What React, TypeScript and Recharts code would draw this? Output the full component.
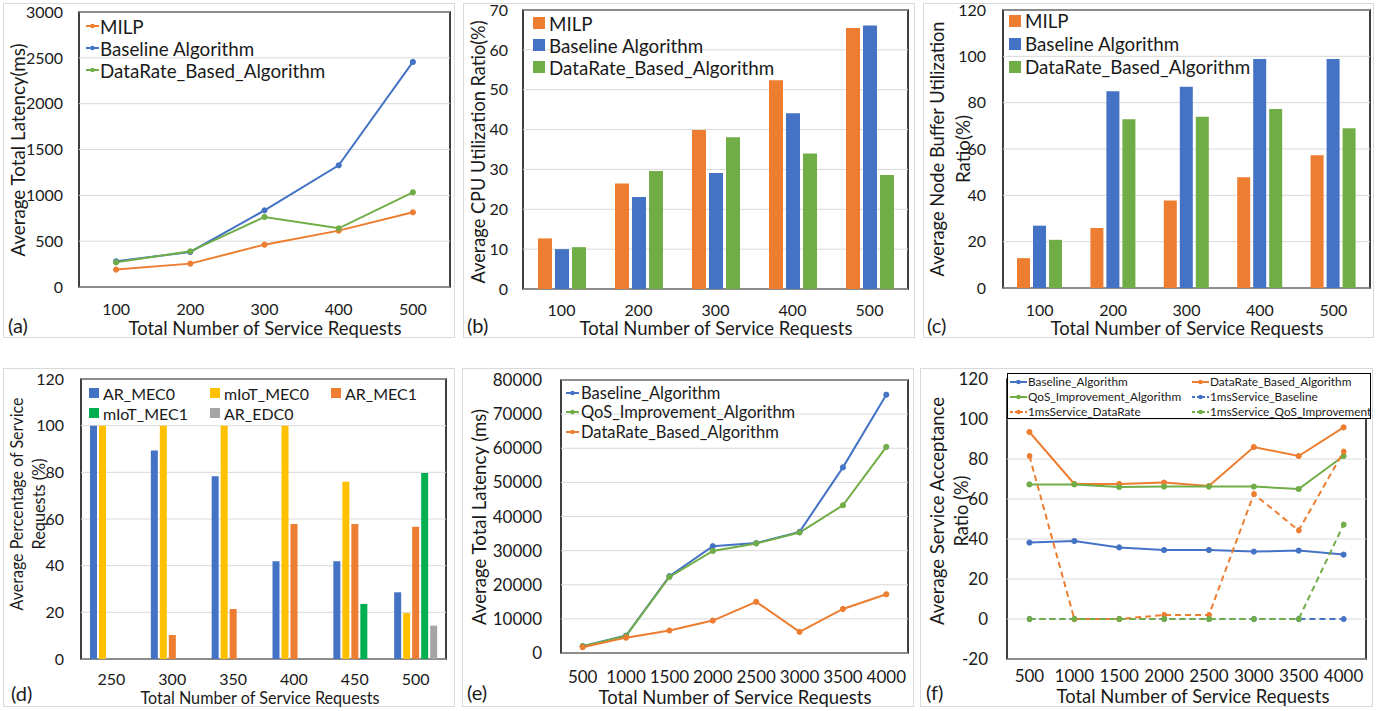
import React from "react";
import {
  ComposedChart,
  BarChart,
  Line,
  Bar,
  XAxis,
  YAxis,
  CartesianGrid,
  Legend,
} from "recharts";

const FONT = "Lato, 'Noto Sans', sans-serif";
const INK = "#1a1a1a";
const ORANGE = "#ED7D31";
const BLUE = "#4472C4";
const GREEN = "#70AD47";
const YELLOW = "#FFC000";
const LIME = "#00B050";
const GREY = "#A5A5A5";

// (a) average total latency
const reqSmall = [100, 200, 300, 400, 500];
const latMilp = [190, 255, 462, 615, 815];
const latBaseline = [280, 382, 836, 1327, 2455];
const latDataRate = [269, 389, 764, 640, 1033];
const ticksA = [0, 500, 1000, 1500, 2000, 2500, 3000];

// (b) cpu utilisation
const cpuMilp = [12.7, 26.5, 39.9, 52.4, 65.5];
const cpuBaseline = [10.0, 23.1, 29.1, 44.1, 66.1];
const cpuDataRate = [10.5, 29.6, 38.1, 34.0, 28.6];
const ticksB = [0, 10, 20, 30, 40, 50, 60, 70];

// (c) node buffer utilisation
const bufMilp = [12.9, 25.9, 37.8, 47.8, 57.3];
const bufBaseline = [26.9, 84.9, 86.9, 98.9, 98.9];
const bufDataRate = [20.8, 72.8, 73.9, 77.3, 69.0];
const ticksPct = [0, 20, 40, 60, 80, 100, 120];

// (d) share of service requests
const reqD = [250, 300, 350, 400, 450, 500];
const arMec0 = [100, 89.4, 78.3, 41.9, 41.9, 28.6];
const miotMec0 = [100, 100, 100, 100, 76, 19.7];
const arMec1 = [0, 10.3, 21.4, 57.9, 57.9, 56.7];
const miotMec1 = [0, 0, 0, 0, 23.6, 79.7];
const arEdc0 = [0, 0, 0, 0, 0, 14.3];

// (e) latency, large scale
const reqLarge = [500, 1000, 1500, 2000, 2500, 3000, 3500, 4000];
const eBaseline = [2000, 5100, 22500, 31300, 32200, 35500, 54400, 75700];
const eQos = [2000, 5000, 22300, 29900, 32100, 35300, 43300, 60400];
const eDataRate = [1700, 4500, 6600, 9500, 15000, 6200, 12900, 17200];
const ticksE = [0, 10000, 20000, 30000, 40000, 50000, 60000, 70000, 80000];

// (f) acceptance ratio
const fBaseline = [38.2, 39.0, 35.8, 34.5, 34.5, 33.7, 34.2, 32.2];
const fDataRate = [93.5, 67.5, 67.5, 68.2, 66.5, 86.0, 81.5, 95.8];
const fQos = [67.3, 67.3, 66.0, 66.2, 66.2, 66.2, 65.0, 81.5];
const f1msBaseline = [0, 0, 0, 0, 0, 0, 0, 0];
const f1msDataRate = [81.5, 0, 0, 2, 2, 62.5, 44.3, 83.7];
const f1msQos = [0, 0, 0, 0, 0, 0, 0, 47.2];
const ticksF = [-20, 0, 20, 40, 60, 80, 100, 120];

type Series = { key: string; name: string; color: string; values: number[]; dashed?: boolean };

const seriesA: Series[] = [
  { key: "milp", name: "MILP", color: ORANGE, values: latMilp },
  { key: "base", name: "Baseline Algorithm", color: BLUE, values: latBaseline },
  { key: "rate", name: "DataRate_Based_Algorithm", color: GREEN, values: latDataRate },
];
const seriesB: Series[] = [
  { key: "milp", name: "MILP", color: ORANGE, values: cpuMilp },
  { key: "base", name: "Baseline Algorithm", color: BLUE, values: cpuBaseline },
  { key: "rate", name: "DataRate_Based_Algorithm", color: GREEN, values: cpuDataRate },
];
const seriesC: Series[] = [
  { key: "milp", name: "MILP", color: ORANGE, values: bufMilp },
  { key: "base", name: "Baseline Algorithm", color: BLUE, values: bufBaseline },
  { key: "rate", name: "DataRate_Based_Algorithm", color: GREEN, values: bufDataRate },
];
const seriesD: Series[] = [
  { key: "arMec0", name: "AR_MEC0", color: BLUE, values: arMec0 },
  { key: "miotMec0", name: "mIoT_MEC0", color: YELLOW, values: miotMec0 },
  { key: "arMec1", name: "AR_MEC1", color: ORANGE, values: arMec1 },
  { key: "miotMec1", name: "mIoT_MEC1", color: LIME, values: miotMec1 },
  { key: "arEdc0", name: "AR_EDC0", color: GREY, values: arEdc0 },
];
const seriesE: Series[] = [
  { key: "base", name: "Baseline_Algorithm", color: BLUE, values: eBaseline },
  { key: "qos", name: "QoS_Improvement_Algorithm", color: GREEN, values: eQos },
  { key: "rate", name: "DataRate_Based_Algorithm", color: ORANGE, values: eDataRate },
];
const seriesF: Series[] = [
  { key: "base", name: "Baseline_Algorithm", color: BLUE, values: fBaseline },
  { key: "rate", name: "DataRate_Based_Algorithm", color: ORANGE, values: fDataRate },
  { key: "qos", name: "QoS_Improvement_Algorithm", color: GREEN, values: fQos },
  { key: "b1ms", name: "1msService_Baseline", color: BLUE, values: f1msBaseline, dashed: true },
  { key: "r1ms", name: "1msService_DataRate", color: ORANGE, values: f1msDataRate, dashed: true },
  { key: "q1ms", name: "1msService_QoS_Improvement", color: GREEN, values: f1msQos, dashed: true },
];

const toRows = (cats: number[], series: Series[]) =>
  cats.map((c, i) => {
    const row: Record<string, number> = { req: c };
    series.forEach((s) => (row[s.key] = s.values[i]));
    return row;
  });

type Rect = { x: number; y: number; w: number; h: number };
type PlotBox = { l: number; t: number; r: number; b: number };

const frames: Record<string, Rect> = {
  a: { x: 3, y: 3, w: 452, h: 335 },
  b: { x: 463, y: 3, w: 452, h: 335 },
  c: { x: 923, y: 3, w: 451, h: 335 },
  d: { x: 3, y: 368, w: 452, h: 339 },
  e: { x: 462, y: 368, w: 452, h: 339 },
  f: { x: 920, y: 368, w: 453, h: 339 },
};
const plots: Record<string, PlotBox> = {
  a: { l: 79, t: 12, r: 450, b: 287 },
  b: { l: 523, t: 10, r: 908, b: 289 },
  c: { l: 1003, t: 10, r: 1370, b: 288 },
  d: { l: 81, t: 379, r: 446, b: 659 },
  e: { l: 561, t: 380, r: 908, b: 653 },
  f: { l: 1007, t: 379, r: 1366, b: 659 },
};

// extra room around each chart so edge labels are never clipped
const PAD = 12;

const layoutOf = (id: string) => {
  const f = frames[id];
  const p = plots[id];
  return {
    left: f.x - PAD,
    top: f.y - PAD,
    width: f.w + 2 * PAD,
    height: f.h + 2 * PAD,
    margin: { top: p.t - f.y + PAD, right: f.x + f.w - p.r + PAD, left: PAD, bottom: PAD },
    yWidth: p.l - f.x,
    xHeight: f.y + f.h - p.b,
  };
};

type LegendOpts = {
  kind: "line" | "bar";
  fontSize: number;
  rowH: number;
  cols: number;
  colW: number;
  iconW: number;
  gap: number;
};

function legendContent(items: Series[], o: LegendOpts) {
  return () => (
    <div
      style={{
        display: "grid",
        gridTemplateColumns: `repeat(${o.cols}, ${o.colW}px)`,
        fontFamily: FONT,
        fontSize: o.fontSize,
        color: INK,
      }}>
      {items.map((it) => (
        <div
          key={it.key}
          style={{ display: "flex", alignItems: "center", height: o.rowH, whiteSpace: "nowrap" }}>
          {o.kind === "bar" ? (
            <span style={{ width: o.iconW, height: o.iconW, background: it.color, display: "inline-block", flex: "none" }} />
          ) : (
            <svg width={o.iconW} height={8} style={{ flex: "none" }}>
              <line
                x1={0}
                y1={4}
                x2={o.iconW}
                y2={4}
                stroke={it.color}
                strokeWidth={2}
                strokeDasharray={it.dashed ? "3 2" : undefined}
              />
              <circle cx={o.iconW / 2} cy={4} r={2.3} fill={it.color} />
            </svg>
          )}
          <span style={{ marginLeft: o.gap }}>{it.name}</span>
        </div>
      ))}
    </div>
  );
}

const tickStyle = (size: number) => ({ fill: INK, fontSize: size, fontFamily: FONT });

type PanelProps = {
  id: string;
  cats: number[];
  series: Series[];
  domain: [number, number];
  ticks: number[];
  tickSize: number;
  xMargin: number;
  yMargin: number;
  legend: LegendOpts;
  legendStyle: React.CSSProperties;
};

const shiftLegend = (s: React.CSSProperties): React.CSSProperties => ({
  ...s,
  left: (s.left as number) + PAD,
  top: (s.top as number) + PAD,
});

function LinePanel(props: PanelProps) {
  const lay = layoutOf(props.id);
  return (
    <div style={{ position: "absolute", left: lay.left, top: lay.top }}>
      <ComposedChart width={lay.width} height={lay.height} data={toRows(props.cats, props.series)} margin={lay.margin}>
        <CartesianGrid vertical={false} stroke="#d9d9d9" />
        <XAxis
          dataKey="req"
          scale="band"
          height={lay.xHeight}
          interval={0}
          tickLine={false}
          axisLine={false}
          tickSize={0}
          tickMargin={props.xMargin}
          tick={tickStyle(props.tickSize)}
        />
        <YAxis
          width={lay.yWidth}
          domain={props.domain}
          ticks={props.ticks}
          interval={0}
          allowDataOverflow
          tickLine={false}
          axisLine={false}
          tickSize={0}
          tickMargin={props.yMargin}
          tick={tickStyle(props.tickSize)}
        />
        {props.series.map((s) => (
          <Line
            key={s.key}
            type="linear"
            dataKey={s.key}
            name={s.name}
            stroke={s.color}
            strokeWidth={2}
            strokeDasharray={s.dashed ? "6 4" : undefined}
            dot={{ r: 2.6, fill: s.color, stroke: s.color, strokeWidth: 1 }}
            isAnimationActive={false}
          />
        ))}
        <Legend
          layout="vertical"
          align="center"
          verticalAlign="middle"
          wrapperStyle={shiftLegend(props.legendStyle)}
          content={legendContent(props.series, props.legend)}
        />
      </ComposedChart>
    </div>
  );
}

function BarPanel(props: PanelProps & { barSize: number; barGap: number }) {
  const lay = layoutOf(props.id);
  return (
    <div style={{ position: "absolute", left: lay.left, top: lay.top }}>
      <BarChart
        width={lay.width}
        height={lay.height}
        data={toRows(props.cats, props.series)}
        margin={lay.margin}
        barSize={props.barSize}
        barGap={props.barGap}>
        <CartesianGrid vertical={false} stroke="#d9d9d9" />
        <XAxis
          dataKey="req"
          height={lay.xHeight}
          interval={0}
          tickLine={false}
          axisLine={false}
          tickSize={0}
          tickMargin={props.xMargin}
          tick={tickStyle(props.tickSize)}
        />
        <YAxis
          width={lay.yWidth}
          domain={props.domain}
          ticks={props.ticks}
          interval={0}
          tickLine={false}
          axisLine={false}
          tickSize={0}
          tickMargin={props.yMargin}
          tick={tickStyle(props.tickSize)}
        />
        {props.series.map((s) => (
          <Bar key={s.key} dataKey={s.key} name={s.name} fill={s.color} isAnimationActive={false} />
        ))}
        <Legend
          layout="vertical"
          align="center"
          verticalAlign="middle"
          wrapperStyle={shiftLegend(props.legendStyle)}
          content={legendContent(props.series, props.legend)}
        />
      </BarChart>
    </div>
  );
}

function Title(props: { x: number; y: number; len: number; size?: number; vertical?: boolean; children: string }) {
  return (
    <text
      x={props.x}
      y={props.y}
      fontSize={props.size ?? 19}
      fill={INK}
      textAnchor="middle"
      dominantBaseline="central"
      textLength={props.len}
      lengthAdjust="spacingAndGlyphs"
      transform={props.vertical ? `rotate(-90 ${props.x} ${props.y})` : undefined}>
      {props.children}
    </text>
  );
}

const X_TITLE = "Total Number of Service Requests";

export default function App() {
  const big: LegendOpts = { kind: "line", fontSize: 18.8, rowH: 22, cols: 1, colW: 320, iconW: 13, gap: 1 };
  const bars: LegendOpts = { kind: "bar", fontSize: 18.8, rowH: 22, cols: 1, colW: 320, iconW: 12, gap: 4 };
  return (
    <div
      style={{
        position: "absolute",
        left: 0,
        top: 0,
        width: 1391,
        height: 711,
        background: "#fff",
        fontFamily: FONT,
        overflow: "hidden",
      }}>
      <svg width={1391} height={711} style={{ position: "absolute", left: 0, top: 0 }}>
        {Object.keys(frames).map((k) => (
          <rect
            key={"f" + k}
            x={frames[k].x + 0.5}
            y={frames[k].y + 0.5}
            width={frames[k].w - 1}
            height={frames[k].h - 1}
            fill="none"
            stroke="#d9d9d9"
          />
        ))}
        {Object.keys(plots).map((k) => (
          <rect
            key={"p" + k}
            x={plots[k].l}
            y={plots[k].t}
            width={plots[k].r - plots[k].l}
            height={plots[k].b - plots[k].t}
            fill="none"
            stroke="#000"
            strokeWidth={1.5}
          />
        ))}
      </svg>

      <LinePanel
        id="a"
        cats={reqSmall}
        series={seriesA}
        domain={[0, 3000]}
        ticks={ticksA}
        tickSize={16}
        xMargin={17}
        yMargin={16}
        legend={big}
        legendStyle={{ left: 83, top: 12, width: 320 }}
      />
      <BarPanel
        id="b"
        cats={reqSmall}
        series={seriesB}
        domain={[0, 70]}
        ticks={ticksB}
        tickSize={16}
        xMargin={16}
        yMargin={15}
        barSize={14}
        barGap={3}
        legend={bars}
        legendStyle={{ left: 70, top: 9, width: 320 }}
      />
      <BarPanel
        id="c"
        cats={reqSmall}
        series={seriesC}
        domain={[0, 120]}
        ticks={ticksPct}
        tickSize={16}
        xMargin={17}
        yMargin={17}
        barSize={13}
        barGap={3}
        legend={{ ...bars, rowH: 23 }}
        legendStyle={{ left: 86, top: 6, width: 320 }}
      />
      <BarPanel
        id="d"
        cats={reqD}
        series={seriesD}
        domain={[0, 120]}
        ticks={ticksPct}
        tickSize={16}
        xMargin={15}
        yMargin={17}
        barSize={7}
        barGap={2}
        legend={{ kind: "bar", fontSize: 16, rowH: 20, cols: 3, colW: 121, iconW: 10, gap: 4 }}
        legendStyle={{ left: 86, top: 15, width: 363 }}
      />
      <LinePanel
        id="e"
        cats={reqLarge}
        series={seriesE}
        domain={[0, 80000]}
        ticks={ticksE}
        tickSize={17}
        xMargin={18}
        yMargin={19}
        legend={{ kind: "line", fontSize: 16.5, rowH: 19.5, cols: 1, colW: 300, iconW: 13, gap: 2 }}
        legendStyle={{ left: 104, top: 15, width: 300 }}
      />
      <LinePanel
        id="f"
        cats={reqLarge}
        series={seriesF}
        domain={[-20, 120]}
        ticks={ticksF}
        tickSize={17}
        xMargin={11}
        yMargin={19}
        legend={{ kind: "line", fontSize: 11.8, rowH: 15, cols: 2, colW: 182, iconW: 17, gap: 1 }}
        legendStyle={{
          left: 87,
          top: 5,
          width: 364,
          height: 46,
          boxSizing: "border-box",
          border: "1.5px solid #000",
          background: "#fff",
          paddingLeft: 2,
          overflow: "hidden",
        }}
      />

      <svg
        width={1391}
        height={711}
        style={{ position: "absolute", left: 0, top: 0, pointerEvents: "none", fontFamily: FONT }}>
        <Title x={265} y={327} len={273}>{X_TITLE}</Title>
        <Title x={716} y={327} len={273}>{X_TITLE}</Title>
        <Title x={1187} y={327} len={273}>{X_TITLE}</Title>
        <Title x={260} y={697} len={239} size={17}>{X_TITLE}</Title>
        <Title x={735} y={696} len={273}>{X_TITLE}</Title>
        <Title x={1193} y={695} len={273}>{X_TITLE}</Title>

        <Title x={17} y={150} len={213} vertical>Average Total Latency(ms)</Title>
        <Title x={477} y={152} len={263} vertical>Average CPU Utilization Ratio(%)</Title>
        <Title x={936} y={149} len={255} vertical>Average Node Buffer Utilization</Title>
        <Title x={962} y={149} len={68} vertical>Ratio(%)</Title>
        <Title x={16} y={504} len={213} size={18} vertical>Average Percentage of Service</Title>
        <Title x={38} y={504} len={91} size={18} vertical>Requests (%)</Title>
        <Title x={478} y={517} len={216} vertical>Average Total Latency (ms)</Title>
        <Title x={936} y={511} len={228} vertical>Average Service Acceptance</Title>
        <Title x={960} y={511} len={71} vertical>Ratio (%)</Title>

        {[
          ["(a)", 8, 325],
          ["(b)", 467, 325],
          ["(c)", 927, 325],
          ["(d)", 11, 693],
          ["(e)", 467, 692],
          ["(f)", 926, 692],
        ].map(([t, x, y]) => (
          <text key={t as string} x={x as number} y={y as number} fontSize={20} fill={INK} dominantBaseline="central">
            {t}
          </text>
        ))}
      </svg>
    </div>
  );
}
